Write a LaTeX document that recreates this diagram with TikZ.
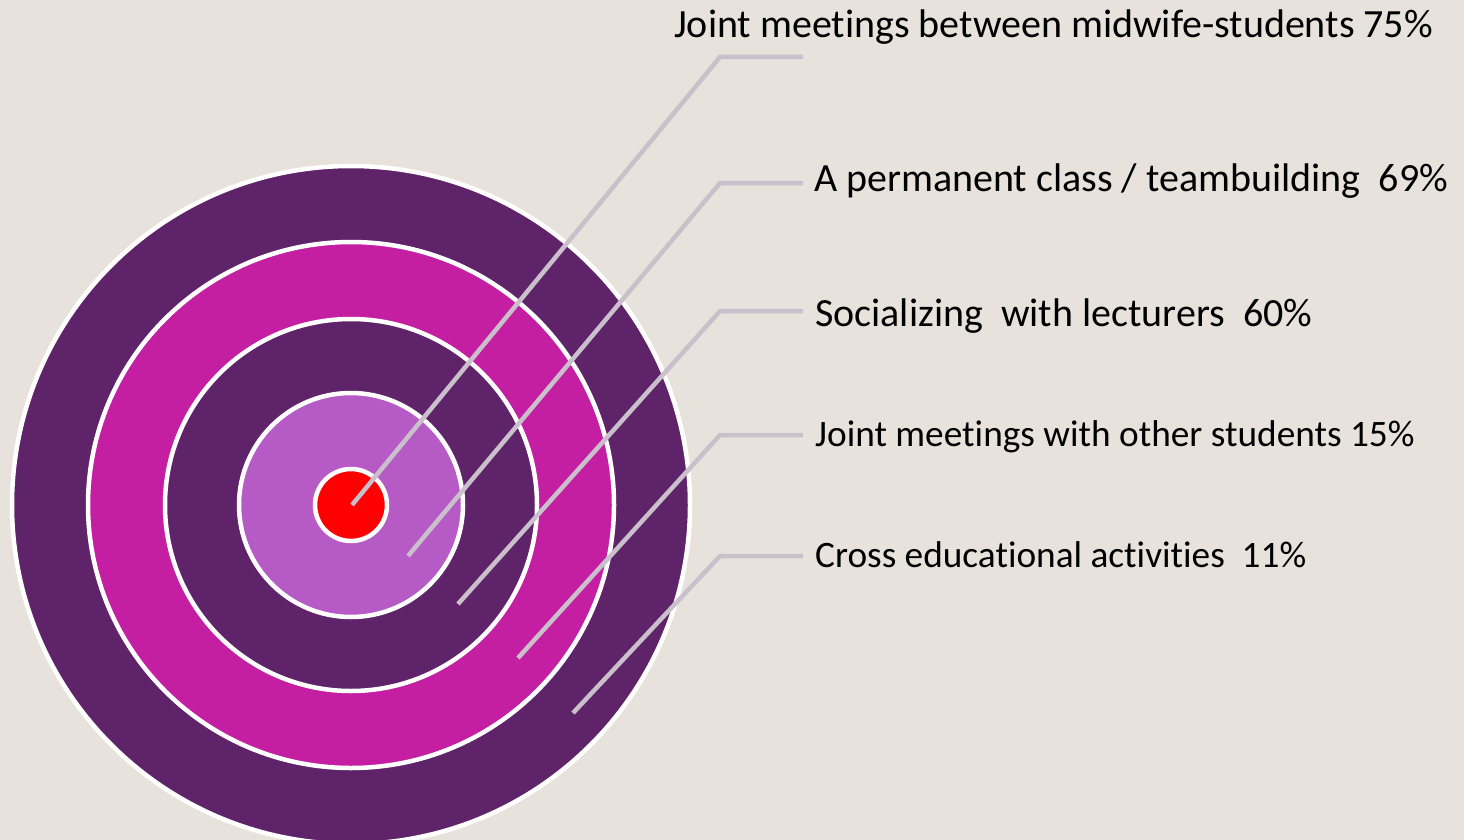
\documentclass[tikz,border=0pt]{standalone}
\usepackage{fontspec}
\setmainfont{Carlito}[Ligatures={NoCommon}]
\definecolor{bgc}{HTML}{E7E3DC}
\definecolor{dpurple}{HTML}{5E2369}
\definecolor{magen}{HTML}{C41EA2}
\definecolor{lpurple}{HTML}{B65BC6}
\definecolor{redc}{HTML}{FF0000}
\definecolor{leader}{HTML}{C9C0CC}
\begin{document}
\begin{tikzpicture}[x=1pt,y=-1pt,
  ring/.style={circle, draw=white, line width=4.5pt, inner sep=0pt},
  lead/.style={draw=leader, line width=4.5pt, line join=miter},
  lbl/.style={anchor=base west, inner sep=0pt, font=\fontsize{40}{48}\selectfont, text=black},
  lblsmall/.style={lbl, font=\fontsize{37.3}{44}\selectfont}]
\useasboundingbox (0,0) rectangle (1464,840);
\fill[bgc] (0,0) rectangle (1464,840);
\clip (0,0) rectangle (1464,840);
\node[ring, fill=dpurple, minimum size=678pt] (r1) at (351,505) {};
\node[ring, fill=magen, minimum size=526pt] (r2) at (351,505) {};
\node[ring, fill=dpurple, minimum size=372pt] (r3) at (351,505) {};
\node[ring, fill=lpurple, minimum size=224pt] (r4) at (351,505) {};
\node[ring, fill=redc, minimum size=72pt] (r5) at (351,505) {};
% leader coordinates
\coordinate (a1) at (352,505); \coordinate (k1) at (720,57);  \coordinate (h1) at (803,57);
\coordinate (a2) at (408,556); \coordinate (k2) at (720,183); \coordinate (h2) at (803,183);
\coordinate (a3) at (458,604); \coordinate (k3) at (720,311); \coordinate (h3) at (803,311);
\coordinate (a4) at (518,658); \coordinate (k4) at (720,435); \coordinate (h4) at (803,435);
\coordinate (a5) at (573,713); \coordinate (k5) at (720,556); \coordinate (h5) at (803,556);
\draw[lead] (a1) -- (k1) -- (h1);
\draw[lead] (a2) -- (k2) -- (h2);
\draw[lead] (a3) -- (k3) -- (h3);
\draw[lead] (a4) -- (k4) -- (h4);
\draw[lead] (a5) -- (k5) -- (h5);
\node[lbl] (t1) at (674,38) {Joint meetings between midwife-students 75\%};
\node[lbl] (t2) at (814,191) {A permanent class / teambuilding\ \ 69\%};
\node[lbl] (t3) at (815,326) {Socializing\ \ with lecturers\ \ 60\%};
\node[lblsmall] (t4) at (815,446) {Joint meetings with other students 15\%};
\node[lblsmall] (t5) at (815,567) {Cross educational activities\ \ 11\%};
\end{tikzpicture}
\end{document}
